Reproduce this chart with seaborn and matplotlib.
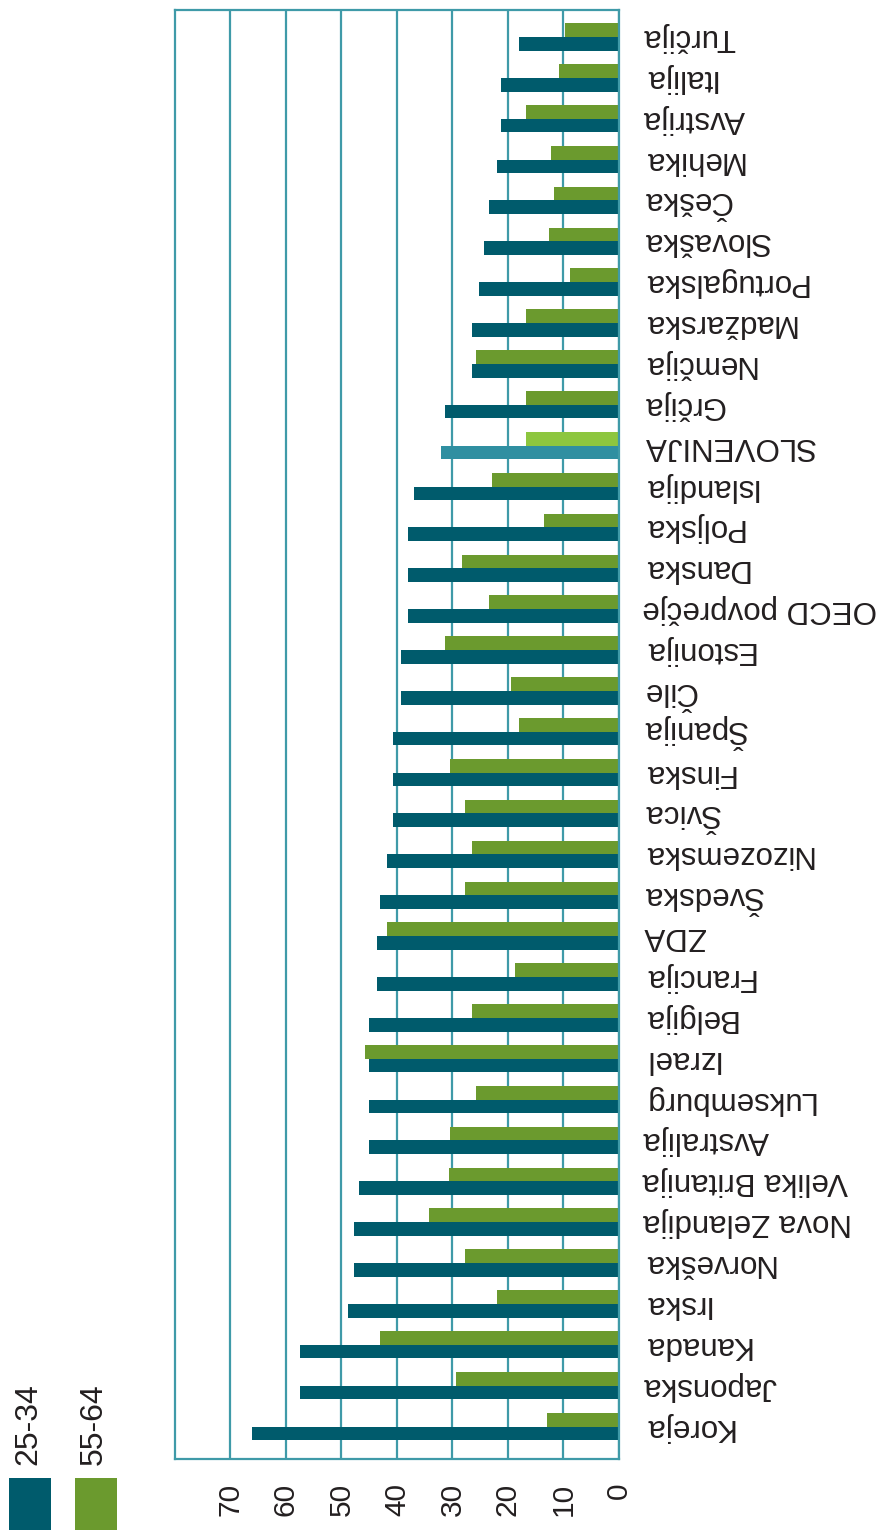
import numpy as np
import pandas as pd
import matplotlib
matplotlib.use("Agg")
import matplotlib.pyplot as plt
from matplotlib.patches import Rectangle
import seaborn as sns

# ── Data (share of population, %) ──
countries = [
    "Turčija", "Italija", "Avstrija", "Mehika", "Češka", "Slovaška",
    "Portugalska", "Madžarska", "Nemčija", "Grčija", "SLOVENIJA",
    "Islandija", "Poljska", "Danska", "OECD povprečje", "Estonija",
    "Čile", "Španija", "Finska", "Švica", "Nizozemska", "Švedska",
    "ZDA", "Francija", "Belgija", "Izrael", "Luksemburg", "Avstralija",
    "Velika Britanija", "Nova Zelandija", "Norveška", "Irska", "Kanada",
    "Japonska", "Koreja",
]
age_25_34 = [
    18.0, 21.3, 21.3, 22.0, 23.4, 24.4,
    25.3, 26.5, 26.5, 31.4, 32.0,
    36.9, 38.1, 38.1, 38.1, 39.2,
    39.2, 40.7, 40.7, 40.7, 41.8, 43.0,
    43.6, 43.6, 45.0, 45.0, 45.0, 45.0,
    46.8, 47.7, 47.7, 48.8, 57.5,
    57.5, 66.2,
]
age_55_64 = [
    9.7, 10.8, 16.7, 12.2, 11.7, 12.6,
    8.9, 16.7, 25.8, 16.7, 16.7,
    22.9, 13.5, 28.3, 23.4, 31.4,
    19.5, 18.0, 30.5, 27.8, 26.5, 27.8,
    41.8, 18.7, 26.5, 45.7, 25.8, 30.5,
    30.7, 34.3, 27.8, 22.0, 43.0,
    29.4, 12.9,
]
groups = ["25-34", "55-64"]
x_ticks = [0, 10, 20, 30, 40, 50, 60, 70]

# ── Colours ──
TEAL = "#005b6c"
GREEN = "#6b9a2e"
SLO_TEAL = "#2f8fa1"
SLO_GREEN = "#8dc63f"
GRID = "#3f9aa8"
TEXT = "#231f20"

n = len(countries)
df = pd.DataFrame({
    "drzava": countries * 2,
    "delez": age_25_34 + age_55_64,
    "starost": [groups[0]] * n + [groups[1]] * n,
})

sns.set_style("white")
plt.rcParams["font.family"] = ["Liberation Sans", "DejaVu Sans"]

fig = plt.figure(figsize=(8.86, 15.3), dpi=100)
ax = fig.add_axes([175 / 886, 1 - 1459 / 1530, (619 - 175) / 886, (1459 - 10) / 1530])

sns.barplot(data=df, y="drzava", x="delez", hue="starost",
            hue_order=[groups[1], groups[0]],
            palette={groups[0]: TEAL, groups[1]: GREEN},
            orient="h", width=0.67, saturation=1, legend=False, ax=ax)

# highlight Slovenia
idx = countries.index("SLOVENIJA")
ax.containers[0][idx].set_facecolor(SLO_GREEN)
ax.containers[1][idx].set_facecolor(SLO_TEAL)
for cont in ax.containers:
    for bar in cont:
        bar.set_edgecolor("none")

# whole chart is turned upside down
ax.set_xlim(80, 0)
ax.set_ylim(n - 1 + 0.795, -0.66)
ax.set_xticks(x_ticks)
ax.set_xlabel("")
ax.set_ylabel("")
ax.set_axisbelow(True)
ax.grid(axis="x", color=GRID, linewidth=1.6)
ax.grid(axis="y", visible=False)
for sp in ax.spines.values():
    sp.set_visible(True)
    sp.set_color(GRID)
    sp.set_linewidth(1.6)

ax.yaxis.tick_right()
ax.tick_params(axis="y", length=0, pad=17, labelsize=22.5,
               labelrotation=180, labelcolor=TEXT)
ax.tick_params(axis="x", length=0, pad=17, labelsize=21.5,
               labelrotation=90, labelcolor=TEXT)
for lbl in ax.get_yticklabels():
    lbl.set_ha("left")
    lbl.set_va("center")

# legend: rotated labels over colour squares
for label, color, x0 in [(groups[0], TEAL, 9), (groups[1], GREEN, 75)]:
    fig.add_artist(Rectangle((x0 / 886, 0), 42 / 886, 52 / 1530,
                             transform=fig.transFigure, facecolor=color,
                             edgecolor="none"))
    fig.text((x0 + 19) / 886, 1 - 1465 / 1530, label, rotation=90,
             ha="center", va="bottom", fontsize=23, color=TEXT)

fig.savefig("out.png", dpi=100)
